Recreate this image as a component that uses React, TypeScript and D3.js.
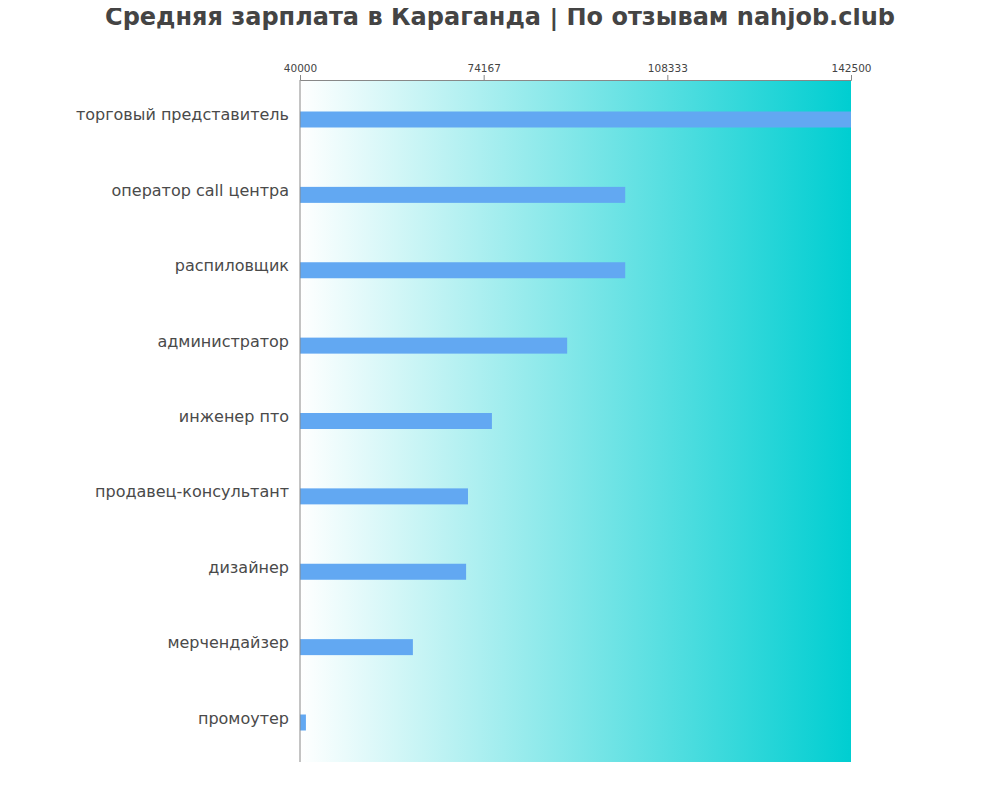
import React, { useEffect, useRef } from "react";
import * as d3 from "d3";

const titleText = "Средняя зарплата в Караганда | По отзывам nahjob.club";

const jobs = [
	"торговый представитель",
	"оператор call центра",
	"распиловщик",
	"администратор",
	"инженер пто",
	"продавец-консультант",
	"дизайнер",
	"мерчендайзер",
	"промоутер",
];

const salaries = [142500, 100500, 100500, 89700, 75700, 71250, 70900, 61000, 41100];

const tickValues = [40000, 74167, 108333, 142500];

const App: React.FC = () => {
	const svgRef = useRef<SVGSVGElement | null>(null);

	useEffect(() => {
		const svg = d3.select(svgRef.current);
		svg.selectAll("*").remove();

		const margin = { top: 80, right: 149, bottom: 38, left: 300 };
		const fullW = 1000;
		const fullH = 800;
		const width = fullW - margin.left - margin.right;
		const height = fullH - margin.top - margin.bottom;

		const x = d3
			.scaleLinear()
			.domain([tickValues[0], tickValues[tickValues.length - 1]])
			.range([0, width]);

		const y = d3
			.scaleBand()
			.domain(jobs)
			.range([0, height])
			.paddingInner(0)
			.paddingOuter(0.024);

		const defs = svg.append("defs");
		const grad = defs
			.append("linearGradient")
			.attr("id", "bg-grad")
			.attr("x1", "0%")
			.attr("x2", "100%")
			.attr("y1", "0%")
			.attr("y2", "0%");
		grad.append("stop").attr("offset", "0%").attr("stop-color", "#ffffff");
		grad.append("stop").attr("offset", "100%").attr("stop-color", "#00ced1");

		svg.append("text")
			.attr("x", fullW / 2)
			.attr("y", 25)
			.attr("text-anchor", "middle")
			.attr("font-family", "DejaVu Sans")
			.attr("font-weight", "bold")
			.attr("font-size", 24)
			.attr("fill", "#444444")
			.text(titleText);

		const g = svg
			.append("g")
			.attr("transform", `translate(${margin.left},${margin.top})`);

		g.append("rect")
			.attr("x", 0)
			.attr("y", 0)
			.attr("width", width)
			.attr("height", height)
			.attr("fill", "url(#bg-grad)");

		const barH = 16;
		g.selectAll(".bar")
			.data(jobs)
			.enter()
			.append("rect")
			.attr("class", "bar")
			.attr("x", 0)
			.attr("y", (d) => y(d)! + y.bandwidth() / 2 - barH / 2)
			.attr("width", (d, i) => x(salaries[i]))
			.attr("height", barH)
			.attr("fill", "#62a8f2");

		g.selectAll(".label")
			.data(jobs)
			.enter()
			.append("text")
			.attr("class", "label")
			.attr("x", -11)
			.attr("y", (d) => y(d)! + y.bandwidth() / 2 + 1)
			.attr("text-anchor", "end")
			.attr("font-family", "DejaVu Sans")
			.attr("font-size", 16)
			.attr("fill", "#4a4a4a")
			.text((d) => d);

		const axis = g
			.append("g")
			.call(
				d3
					.axisTop(x)
					.tickValues(tickValues)
					.tickFormat(d3.format("d"))
					.tickSize(5)
			);
		axis.select(".domain").attr("stroke", "#888888");
		axis.selectAll(".tick line").attr("stroke", "#888888");
		axis.selectAll(".tick text")
			.attr("font-family", "DejaVu Sans")
			.attr("font-size", 10.5)
			.attr("fill", "#444444")
			.attr("dy", "0em");

		g.append("line")
			.attr("x1", 0)
			.attr("x2", 0)
			.attr("y1", 0)
			.attr("y2", height)
			.attr("stroke", "#888888");
	}, []);

	return (
		<svg
			ref={svgRef}
			width={1000}
			height={800}
			style={{ display: "block", margin: -8 }}
		></svg>
	);
};

export default App;
